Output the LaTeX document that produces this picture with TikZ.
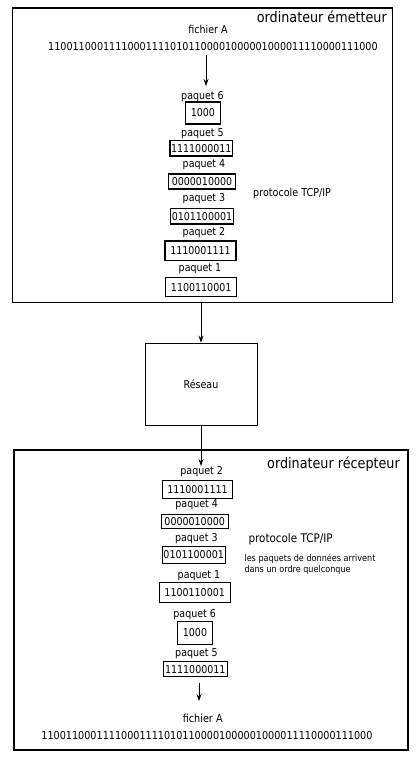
\documentclass[tikz,border=0pt]{standalone}
\usepackage{fontspec}
\setmainfont{DejaVu Sans}[FakeStretch=0.88]
\usetikzlibrary{arrows.meta}
\begin{document}
\begin{tikzpicture}[x=1pt,y=-1pt,
  outer/.style={draw, line width=1.5pt, inner sep=0pt},
  netbox/.style={draw, line width=0.8pt, inner sep=0pt, font=\fontsize{10.8}{12}\selectfont},
  pbox/.style={draw, line width=1.1pt, inner sep=0pt, font=\fontsize{10.8}{12}\selectfont},
  lbl/.style={inner sep=0pt, font=\fontsize{10.8}{12}\selectfont},
  title/.style={inner sep=0pt, anchor=east, font=\fontsize{14.5}{16}\selectfont},
  bits/.style={inner sep=0pt, font=\fontsize{10.9}{12}\selectfont},
  proto/.style={inner sep=0pt, anchor=west, font=\fontsize{10.9}{12}\selectfont},
  arr/.style={-{Stealth[length=7pt,width=5pt]}, line width=0.8pt}]
\useasboundingbox (0,0) rectangle (420,760);
\fill[white] (0,0) rectangle (420,760);

% outer boxes
\node[outer, minimum width=380.4pt, minimum height=294.7pt] (emit) at (202.5,155.35) {};
\node[netbox, minimum width=112pt, minimum height=82pt] (res) at (201,384) {Réseau};
\node[outer, minimum width=394pt, minimum height=300pt] (recv) at (211,600) {};

% sender
\node[title] (t1) at (387,17) {ordinateur émetteur};
\node[lbl] (f1) at (208,29) {fichier A};
\node[bits] (b1) at (213,46.5) {110011000111100011110101100001000001000011110000111000};
\coordinate (a1s) at (206,55);
\coordinate (a1e) at (206,86);
\draw[arr] (a1s) -- (a1e);

\node[lbl] (sl6) at (202.5,96.5) {paquet 6};
\node[pbox, minimum width=34.3pt, minimum height=22pt] (sp6) at (202.9,113) {1000};
\node[lbl] (sl5) at (202.5,134) {paquet 5};
\node[pbox, minimum width=62.7pt, minimum height=15.3pt] (sp5) at (201.3,148.3) {1111000011};
\node[lbl] (sl4) at (204,165) {paquet 4};
\node[pbox, minimum width=67.4pt, minimum height=15pt] (sp4) at (202,181.5) {0000010000};
\node[lbl] (sl3) at (204,199) {paquet 3};
\node[pbox, minimum width=62.6pt, minimum height=15.3pt] (sp3) at (202,216.3) {0101100001};
\node[lbl] (sl2) at (204,233) {paquet 2};
\node[pbox, minimum width=71pt, minimum height=19.7pt] (sp2) at (200.5,250.8) {1110001111};
\node[lbl] (sl1) at (200,269) {paquet 1};
\node[pbox, minimum width=71pt, minimum height=19pt] (sp1) at (201.2,287.2) {1100110001};
\node[proto] (pr1) at (253,193) {protocole TCP/IP};

% network arrows
\draw[arr] (res.north |- emit.south) -- (res.north);
\draw[arr] (res.south) -- (res.south |- 0,466);

% receiver
\node[title] (t2) at (400,464) {ordinateur récepteur};
\node[lbl] (rl2) at (201.7,471.7) {paquet 2};
\node[pbox, minimum width=69.6pt, minimum height=18.3pt] (rp2) at (197.5,489.2) {1110001111};
\node[lbl] (rl4) at (196.7,504.3) {paquet 4};
\node[pbox, minimum width=67.3pt, minimum height=14.3pt] (rp4) at (194.7,521.2) {0000010000};
\node[lbl] (rl3) at (196.3,538.3) {paquet 3};
\node[pbox, minimum width=62.7pt, minimum height=16.6pt] (rp3) at (193.7,555) {0101100001};
\node[lbl] (rl1) at (199,576) {paquet 1};
\node[pbox, minimum width=70.7pt, minimum height=19.6pt] (rp1) at (194.7,592.5) {1100110001};
\node[lbl] (rl6) at (194.7,615) {paquet 6};
\node[pbox, minimum width=34.6pt, minimum height=22.3pt] (rp6) at (195,632.9) {1000};
\node[lbl] (rl5) at (196.5,654) {paquet 5};
\node[pbox, minimum width=64pt, minimum height=15pt] (rp5) at (195.3,669.2) {1111000011};
\node[proto, font=\fontsize{11.8}{13}\selectfont] (pr2) at (248.3,539.3) {protocole TCP/IP};
\node[inner sep=0pt, anchor=west, align=left, font=\fontsize{9.2}{11.7}\selectfont] (note) at (244.3,564.2) {les paquets de données arrivent\\dans un ordre quelconque};

\coordinate (a4s) at (199,683);
\coordinate (a4e) at (199,701);
\draw[arr] (a4s) -- (a4e);
\node[lbl, font=\fontsize{11}{13}\selectfont] (f2) at (202.7,718.3) {fichier A};
\node[bits, font=\fontsize{10.95}{12}\selectfont] (b2) at (207,735.7) {110011000111100011110101100001000001000011110000111000};
\end{tikzpicture}
\end{document}
